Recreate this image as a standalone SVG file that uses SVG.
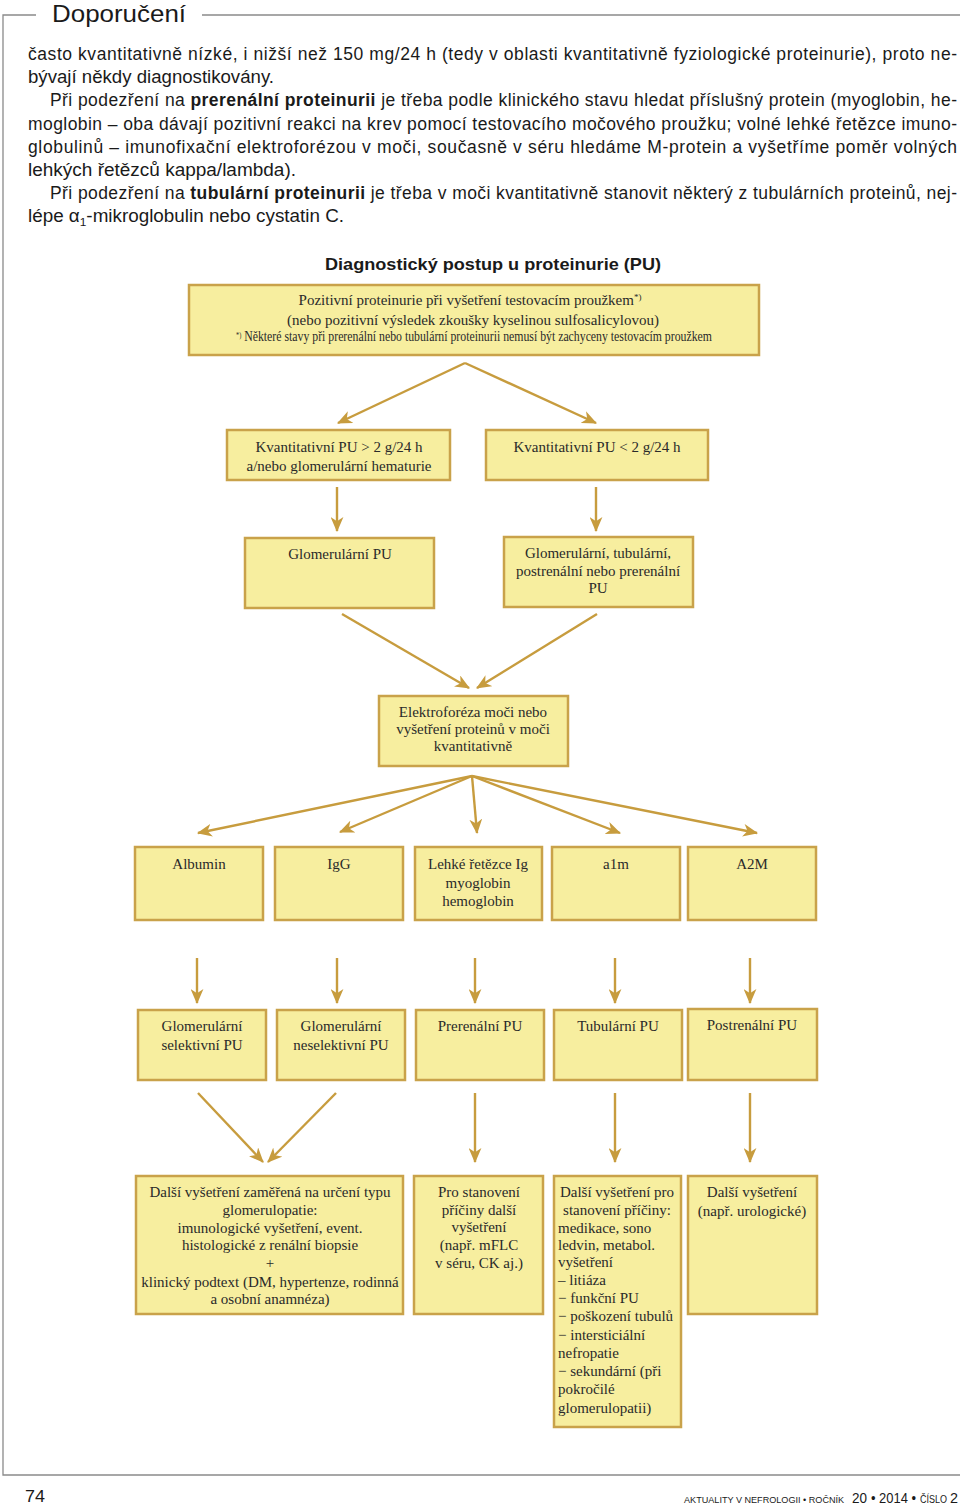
<svg xmlns="http://www.w3.org/2000/svg" width="960" height="1505" viewBox="0 0 960 1505">
<style>
.frame{fill:none;stroke:#8a8a8a;stroke-width:1.3}
.p{font-family:"Liberation Sans",Arial,sans-serif;font-size:17.5px;fill:#1a1a1a}
.b{font-weight:bold}
.box{fill:#F7EE9F;stroke:#C9A24A;stroke-width:2.5}
.t{font-family:"Liberation Serif","Times New Roman",serif;font-size:15px;fill:#2a2a2a;text-anchor:middle}
.tl{font-family:"Liberation Serif","Times New Roman",serif;font-size:15px;fill:#2a2a2a}
.arr{fill:none;stroke:#C79C3E;stroke-width:2.4;marker-end:url(#ah)}
.ft{font-family:"Liberation Sans",Arial,sans-serif;fill:#1a1a1a}
</style>
<defs>
<marker id="ah" viewBox="0 0 14 12" refX="13" refY="6" markerWidth="15" markerHeight="13" markerUnits="userSpaceOnUse" orient="auto">
<path d="M0,0 L14,6 L0,12 L4,6 z" fill="#C79C3E"/>
</marker>
</defs>
<rect width="960" height="1505" fill="#ffffff"/>
<g id="frame">
<path class="frame" d="M36,15 H3 V1475 H960"/>
<path class="frame" d="M202,15 H960"/>
<text x="52" y="22" font-family="Liberation Sans,Arial,sans-serif" font-size="24" fill="#1a1a1a" textLength="134" lengthAdjust="spacingAndGlyphs">Doporučení</text>
</g>
<g id="paragraph">
<text class="p" x="28" y="60" textLength="929" lengthAdjust="spacing">často kvantitativně nízké, i nižší než 150 mg/24 h (tedy v oblasti kvantitativně fyziologické proteinurie), proto ne-</text>
<text class="p" x="28" y="83" textLength="246" lengthAdjust="spacingAndGlyphs">bývají někdy diagnostikovány.</text>
<text class="p" x="50" y="106" textLength="907" lengthAdjust="spacing">Při podezření na <tspan class="b">prerenální proteinurii</tspan> je třeba podle klinického stavu hledat příslušný protein (myoglobin, he-</text>
<text class="p" x="28" y="130" textLength="929" lengthAdjust="spacing">moglobin – oba dávají pozitivní reakci na krev pomocí testovacího močového proužku; volné lehké řetězce imuno-</text>
<text class="p" x="28" y="153" textLength="929" lengthAdjust="spacing">globulinů – imunofixační elektroforézou v moči, současně v séru hledáme M-protein a vyšetříme poměr volných</text>
<text class="p" x="28" y="176" textLength="268" lengthAdjust="spacingAndGlyphs">lehkých řetězců kappa/lambda).</text>
<text class="p" x="50" y="199" textLength="907" lengthAdjust="spacing">Při podezření na <tspan class="b">tubulární proteinurii</tspan> je třeba v moči kvantitativně stanovit některý z tubulárních proteinů, nej-</text>
<text class="p" x="28" y="222" textLength="316" lengthAdjust="spacingAndGlyphs">lépe α<tspan font-size="11" dy="4">1</tspan><tspan dy="-4">-mikroglobulin nebo cystatin C.</tspan></text>
</g>
<text x="493" y="270" font-family="Liberation Sans,Arial,sans-serif" font-size="17" font-weight="bold" fill="#1a1a1a" text-anchor="middle" textLength="336" lengthAdjust="spacingAndGlyphs">Diagnostický postup u proteinurie (PU)</text>
<g id="connectors">
<line class="arr" x1="465" y1="363" x2="338" y2="423"/>
<line class="arr" x1="465" y1="363" x2="596" y2="423"/>
<line class="arr" x1="337" y1="487" x2="337" y2="531"/>
<line class="arr" x1="596" y1="487" x2="596" y2="531"/>
<line class="arr" x1="342" y1="614" x2="469" y2="688"/>
<line class="arr" x1="597" y1="614" x2="477" y2="688"/>
<line class="arr" x1="472" y1="776" x2="198" y2="833"/>
<line class="arr" x1="472" y1="776" x2="340" y2="832"/>
<line class="arr" x1="472" y1="776" x2="477" y2="833"/>
<line class="arr" x1="472" y1="776" x2="620" y2="833"/>
<line class="arr" x1="472" y1="776" x2="757" y2="833"/>
<line class="arr" x1="197" y1="958" x2="197" y2="1003"/>
<line class="arr" x1="337" y1="958" x2="337" y2="1003"/>
<line class="arr" x1="475" y1="958" x2="475" y2="1003"/>
<line class="arr" x1="615" y1="958" x2="615" y2="1003"/>
<line class="arr" x1="750" y1="958" x2="750" y2="1003"/>
<line class="arr" x1="198" y1="1093" x2="263" y2="1162"/>
<line class="arr" x1="336" y1="1093" x2="268" y2="1162"/>
<line class="arr" x1="475" y1="1093" x2="475" y2="1162"/>
<line class="arr" x1="615" y1="1093" x2="615" y2="1162"/>
<line class="arr" x1="750" y1="1093" x2="750" y2="1162"/>
</g>
<g id="n_start">
<rect class="box" x="189" y="285" width="570" height="70"/>
<text class="t" x="470" y="305">Pozitivní proteinurie při vyšetření testovacím proužkem<tspan font-size="9" dy="-5">*)</tspan></text>
<text class="t" x="473" y="325">(nebo pozitivní výsledek zkoušky kyselinou sulfosalicylovou)</text>
<text class="t" x="474" y="341" font-size="11" textLength="476" lengthAdjust="spacingAndGlyphs"><tspan font-size="8" dy="-3">*)</tspan><tspan dy="3"> Některé stavy při prerenální nebo tubulární proteinurii nemusí být zachyceny testovacím proužkem</tspan></text>
</g>
<g id="n_gt2">
<rect class="box" x="227" y="430" width="223" height="50"/>
<text class="t" x="339" y="452">Kvantitativní PU &gt; 2 g/24 h</text>
<text class="t" x="339" y="471">a/nebo glomerulární hematurie</text>
</g>
<g id="n_lt2">
<rect class="box" x="486" y="430" width="222" height="50"/>
<text class="t" x="597" y="452">Kvantitativní PU &lt; 2 g/24 h</text>
</g>
<g id="n_glom">
<rect class="box" x="245" y="538" width="189" height="70"/>
<text class="t" x="340" y="559">Glomerulární PU</text>
</g>
<g id="n_other">
<rect class="box" x="504" y="537" width="189" height="70"/>
<text class="t" x="598" y="558">Glomerulární, tubulární,</text>
<text class="t" x="598" y="576">postrenální nebo prerenální</text>
<text class="t" x="598" y="593">PU</text>
</g>
<g id="n_elfo">
<rect class="box" x="379" y="696" width="189" height="70"/>
<text class="t" x="473" y="717">Elektroforéza moči nebo</text>
<text class="t" x="473" y="734">vyšetření proteinů v moči</text>
<text class="t" x="473" y="751">kvantitativně</text>
</g>
<g id="n_albumin">
<rect class="box" x="135" y="847" width="128" height="73"/>
<text class="t" x="199" y="869">Albumin</text>
</g>
<g id="n_igg">
<rect class="box" x="275" y="847" width="128" height="73"/>
<text class="t" x="339" y="869">IgG</text>
</g>
<g id="n_light">
<rect class="box" x="415" y="847" width="127" height="73"/>
<text class="t" x="478" y="869">Lehké řetězce Ig</text>
<text class="t" x="478" y="888">myoglobin</text>
<text class="t" x="478" y="906">hemoglobin</text>
</g>
<g id="n_a1m">
<rect class="box" x="552" y="847" width="128" height="73"/>
<text class="t" x="616" y="869">a1m</text>
</g>
<g id="n_a2m">
<rect class="box" x="688" y="847" width="128" height="73"/>
<text class="t" x="752" y="869">A2M</text>
</g>
<g id="n_gsel">
<rect class="box" x="138" y="1010" width="128" height="70"/>
<text class="t" x="202" y="1031">Glomerulární</text>
<text class="t" x="202" y="1050">selektivní PU</text>
</g>
<g id="n_gnsel">
<rect class="box" x="277" y="1010" width="128" height="70"/>
<text class="t" x="341" y="1031">Glomerulární</text>
<text class="t" x="341" y="1050">neselektivní PU</text>
</g>
<g id="n_pre">
<rect class="box" x="416" y="1010" width="128" height="70"/>
<text class="t" x="480" y="1031">Prerenální PU</text>
</g>
<g id="n_tub">
<rect class="box" x="554" y="1010" width="128" height="70"/>
<text class="t" x="618" y="1031">Tubulární PU</text>
</g>
<g id="n_post">
<rect class="box" x="688" y="1009" width="129" height="71"/>
<text class="t" x="752" y="1030">Postrenální PU</text>
</g>
<g id="n_glomexam">
<rect class="box" x="136" y="1176" width="267" height="138"/>
<text class="t" x="270" y="1197">Další vyšetření zaměřená na určení typu</text>
<text class="t" x="270" y="1215">glomerulopatie:</text>
<text class="t" x="270" y="1233">imunologické vyšetření, event.</text>
<text class="t" x="270" y="1250">histologické z renální biopsie</text>
<text class="t" x="270" y="1268">+</text>
<text class="t" x="270" y="1287">klinický podtext (DM, hypertenze, rodinná</text>
<text class="t" x="270" y="1304">a osobní anamnéza)</text>
</g>
<g id="n_preexam">
<rect class="box" x="414" y="1176" width="129" height="138"/>
<text class="t" x="479" y="1197">Pro stanovení</text>
<text class="t" x="479" y="1215">příčiny další</text>
<text class="t" x="479" y="1232">vyšetření</text>
<text class="t" x="479" y="1250">(např. mFLC</text>
<text class="t" x="479" y="1268">v séru, CK aj.)</text>
</g>
<g id="n_tubexam">
<rect class="box" x="554" y="1176" width="127" height="251"/>
<text class="t" x="617" y="1197">Další vyšetření pro</text>
<text class="t" x="617" y="1215">stanovení příčiny:</text>
<text class="tl" x="558" y="1233">medikace, sono</text>
<text class="tl" x="558" y="1250">ledvin, metabol.</text>
<text class="tl" x="558" y="1267">vyšetření</text>
<text class="tl" x="558" y="1285">– litiáza</text>
<text class="tl" x="558" y="1303">− funkční PU</text>
<text class="tl" x="558" y="1321">− poškození tubulů</text>
<text class="tl" x="558" y="1340">− intersticiální</text>
<text class="tl" x="558" y="1358">nefropatie</text>
<text class="tl" x="558" y="1376">− sekundární (při</text>
<text class="tl" x="558" y="1394">pokročilé</text>
<text class="tl" x="558" y="1413">glomerulopatii)</text>
</g>
<g id="n_postexam">
<rect class="box" x="688" y="1176" width="129" height="138"/>
<text class="t" x="752" y="1197">Další vyšetření</text>
<text class="t" x="752" y="1216">(např. urologické)</text>
</g>
<g id="footer">
<text class="ft" x="25" y="1502" font-size="17" textLength="20" lengthAdjust="spacingAndGlyphs">74</text>
<text class="ft" x="684" y="1503" font-size="9.1">AKTUALITY V NEFROLOGII • ROČNÍK</text>
<text class="ft" x="852" y="1503" font-size="14" textLength="15" lengthAdjust="spacingAndGlyphs">20</text>
<text class="ft" x="871" y="1503" font-size="14" textLength="45" lengthAdjust="spacingAndGlyphs">• 2014 •</text>
<text class="ft" x="920" y="1503" font-size="10" textLength="27" lengthAdjust="spacingAndGlyphs">ČÍSLO</text>
<text class="ft" x="950" y="1503" font-size="14" textLength="8" lengthAdjust="spacingAndGlyphs">2</text>
</g>
</svg>
